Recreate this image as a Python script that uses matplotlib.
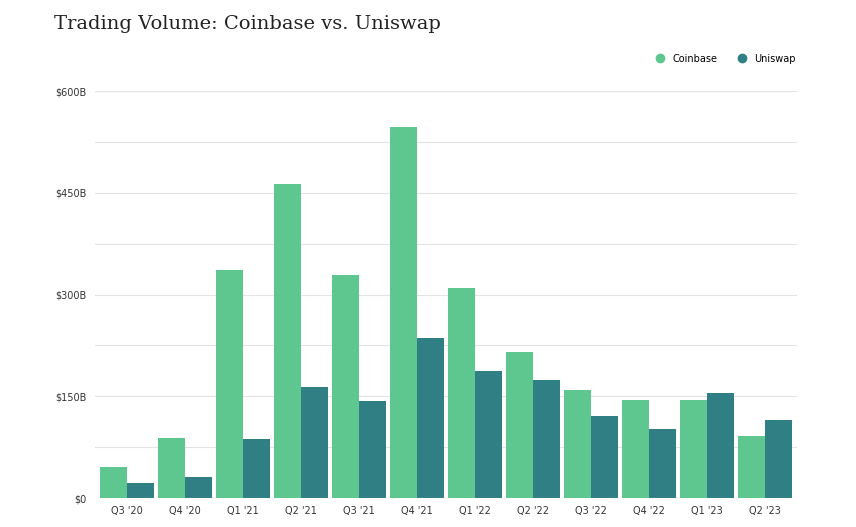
import matplotlib
matplotlib.use("Agg")
import matplotlib.pyplot as plt
import numpy as np

quarters = ["Q3 '20","Q4 '20","Q1 '21","Q2 '21","Q3 '21","Q4 '21","Q1 '22","Q2 '22","Q3 '22","Q4 '22","Q1 '23","Q2 '23"]
coinbase = [46, 88, 336, 463, 329, 547, 310, 215, 159, 144, 144, 91]
uniswap = [22, 31, 87, 164, 143, 236, 187, 174, 121, 102, 155, 115]
yticks = [0, 150, 300, 450, 600]
ytick_labels = ["$0", "$150B", "$300B", "$450B", "$600B"]

c1, c2 = "#5DC78F", "#2F7F85"
fig = plt.figure(figsize=(8.56, 5.27), dpi=100)
ax = fig.add_axes([0.111, 0.055, 0.82, 0.772])
x = np.arange(len(quarters))
w = 0.46
ax.bar(x - w/2, coinbase, w, color=c1, label="Coinbase", zorder=3)
ax.bar(x + w/2, uniswap, w, color=c2, label="Uniswap", zorder=3)
ax.set_xlim(-0.55, len(quarters) - 0.45)
ax.set_ylim(0, 600)
ax.set_yticks(np.arange(0, 601, 75), minor=False)
ax.set_yticks(yticks)
ax.set_yticklabels(ytick_labels, fontsize=7, color="#333")
for v in np.arange(75, 601, 75):
    ax.axhline(v, color="#e3e3e3", lw=0.8, zorder=0)
ax.axhline(0, color="#bbbbbb", lw=0.8, zorder=4)
ax.set_xticks(x)
ax.set_xticklabels(quarters, fontsize=7, color="#333")
ax.tick_params(length=0, pad=6)
for s in ax.spines.values():
    s.set_visible(False)
from matplotlib.lines import Line2D
h = [Line2D([], [], marker="o", ls="", color=c1, markersize=6),
     Line2D([], [], marker="o", ls="", color=c2, markersize=6)]
fig.legend(h, ["Coinbase", "Uniswap"], loc="upper right", bbox_to_anchor=(0.94, 0.915),
           ncol=2, frameon=False, fontsize=7, handletextpad=0.3, columnspacing=1.5)
fig.text(0.063, 0.955, "Trading Volume: Coinbase vs. Uniswap", fontsize=14,
         family="DejaVu Serif", color="#222", va="center")
fig.savefig("out.png")
